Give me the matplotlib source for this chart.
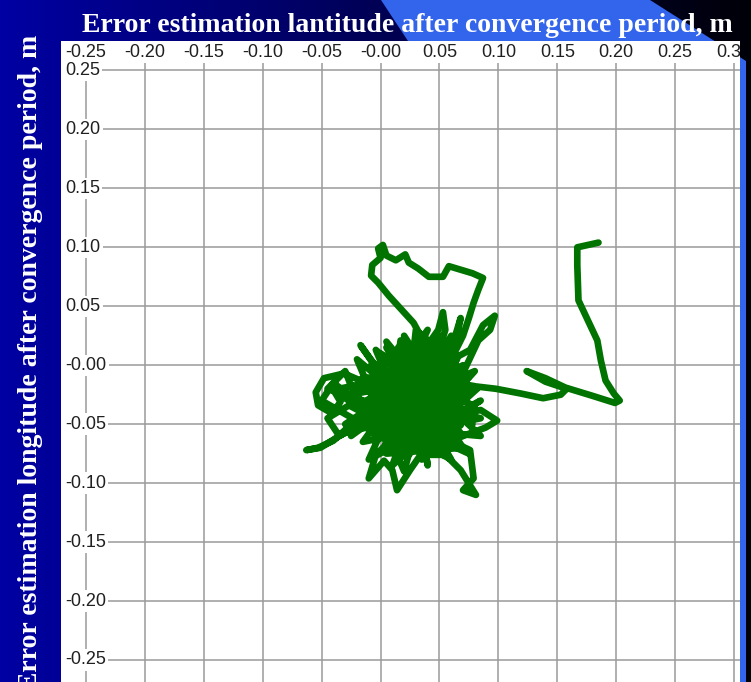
import numpy as np
import matplotlib
matplotlib.use('Agg')
import matplotlib.pyplot as plt
from matplotlib.patches import Polygon, Rectangle

# axis ticks
x_ticks = [-0.25, -0.20, -0.15, -0.10, -0.05, 0.00, 0.05, 0.10, 0.15, 0.20, 0.25, 0.30]
x_labels = ['-0.25', '-0.20', '-0.15', '-0.10', '-0.05', '-0.00',
            '0.05', '0.10', '0.15', '0.20', '0.25', '0.30']
y_ticks = [0.25, 0.20, 0.15, 0.10, 0.05, 0.00, -0.05, -0.10, -0.15, -0.20, -0.25]
y_labels = ['0.25', '0.20', '0.15', '0.10', '0.05', '-0.00',
            '-0.05', '-0.10', '-0.15', '-0.20', '-0.25']

# error trace (lat, lon), m
err_lat = [0.185, 0.167, 0.167, 0.168, 0.176, 0.184, 0.187, 0.191, 0.198, 0.203,
           0.199, 0.180, 0.157, 0.140, 0.124, 0.140, 0.158, 0.153, 0.138, 0.119,
           0.098, 0.081, 0.070, 0.051, 0.013, 0.064, 0.000, 0.042, 0.025, -0.013,
           0.068, 0.017, 0.004, 0.055, 0.034, 0.028, 0.017, 0.007, -0.002, -0.008,
           -0.007, 0.000, -0.002, 0.002, 0.005, 0.013, 0.021, 0.024, 0.032, 0.041,
           0.053, 0.058, 0.068, 0.078, 0.087, 0.083, 0.079, 0.075, 0.070, 0.051,
           -0.008, 0.047, 0.064, -0.004, 0.038, 0.055, 0.053, 0.049, 0.013, 0.076,
           0.087, 0.097, 0.093, 0.083, 0.059, 0.021, 0.064, 0.068, 0.061, 0.008,
           -0.017, -0.031, -0.048, -0.055, -0.053, -0.041, -0.034, -0.040, -0.021, -0.010,
           0.034, -0.008, -0.017, 0.017, -0.003, -0.015, -0.028, -0.040, -0.053, -0.063,
           -0.051, -0.030, -0.004, 0.042, 0.085, 0.099, 0.089, 0.059, 0.076, 0.079,
           0.070, 0.081, 0.068, 0.055, 0.034, 0.025, 0.014, 0.010, 0.003, -0.010,
           -0.004, 0.008, 0.068, -0.004, 0.030, 0.072, 0.004, 0.042, 0.025, -0.025,
           0.034, 0.000, 0.060, 0.010, 0.070, -0.010, 0.065, 0.020, 0.035, 0.075,
           -0.015, 0.050, 0.040, -0.005, 0.080, 0.015, 0.025, 0.060, -0.012, 0.070,
           0.005, 0.045, 0.050, 0.000, 0.075, 0.030, 0.020, 0.065, -0.008, 0.055,
           0.010, 0.078, 0.030, -0.010, 0.040, 0.060, 0.005, 0.070, 0.015, 0.035,
           0.080, -0.015, 0.045, 0.020, 0.055, 0.000, 0.065, 0.025, 0.040, 0.030,
           0.060, -0.020, 0.085, -0.015, 0.050, 0.010, 0.082, -0.025, 0.060, 0.005,
           0.085, -0.030, 0.045, 0.020, -0.020, 0.075, -0.035, 0.030, 0.085, -0.010,
           0.040, -0.025, 0.065, 0.000, -0.045, -0.030, -0.020, -0.045, -0.035, -0.015,
           -0.050, -0.040, 0.000]
err_lon = [0.104, 0.100, 0.085, 0.055, 0.038, 0.021, 0.004, -0.013, -0.024, -0.030,
           -0.032, -0.026, -0.019, -0.011, -0.005, -0.014, -0.020, -0.025, -0.028, -0.024,
           -0.020, -0.018, -0.016, 0.004, -0.047, -0.038, -0.004, -0.064, 0.013, -0.038,
           -0.025, 0.021, -0.068, -0.055, 0.025, 0.036, 0.048, 0.059, 0.070, 0.076,
           0.085, 0.091, 0.099, 0.102, 0.093, 0.089, 0.094, 0.087, 0.082, 0.075,
           0.075, 0.084, 0.081, 0.078, 0.074, 0.064, 0.053, 0.040, 0.025, -0.013,
           -0.025, -0.076, 0.004, -0.055, -0.025, 0.030, 0.045, 0.030, -0.021, 0.013,
           0.034, 0.042, 0.030, 0.021, -0.030, -0.004, 0.021, 0.040, 0.017, -0.013,
           -0.013, -0.007, -0.011, -0.023, -0.034, -0.041, -0.031, -0.021, -0.017, -0.013,
           -0.038, 0.004, 0.017, -0.030, -0.057, -0.047, -0.053, -0.064, -0.070, -0.072,
           -0.070, -0.057, -0.051, -0.047, -0.038, -0.047, -0.053, -0.064, -0.072, -0.096,
           -0.106, -0.110, -0.089, -0.076, -0.076, -0.089, -0.106, -0.089, -0.081, -0.096,
           -0.076, -0.064, -0.051, 0.013, -0.068, -0.008, -0.030, 0.017, -0.051, -0.025,
           -0.013, 0.010, -0.070, -0.070, 0.000, -0.040, -0.045, 0.025, -0.080, -0.020,
           -0.010, -0.060, 0.020, -0.060, -0.035, 0.000, -0.075, 0.015, -0.030, -0.060,
           0.020, -0.070, 0.010, -0.050, -0.010, 0.030, -0.060, -0.030, 0.000, -0.075,
           -0.020, -0.050, 0.005, -0.055, -0.040, 0.025, -0.075, -0.070, 0.015, -0.055,
           -0.005, -0.045, -0.015, -0.045, -0.040, -0.015, -0.055, 0.010, -0.085, -0.020,
           -0.010, -0.020, -0.045, -0.065, 0.025, -0.085, -0.020, -0.035, -0.080, 0.015,
           -0.060, -0.050, 0.000, -0.090, 0.005, -0.075, -0.025, -0.065, -0.030, -0.080,
           0.030, -0.060, 0.005, -0.035, -0.020, -0.005, -0.030, -0.045, -0.060, -0.050,
           -0.030, -0.015, -0.045]

W, H = 751, 682
fig = plt.figure(figsize=(W / 100, H / 100), dpi=100)

# background: navy gradient + blue band
bg = fig.add_axes([0, 0, 1, 1], zorder=0)
bg.set_xlim(0, W)
bg.set_ylim(H, 0)
bg.axis('off')
grad = np.zeros((2, W, 3))
grad[:, :, 2] = 0.64 - 0.61 * np.linspace(0, 1, W)
bg.imshow(grad, extent=[0, W, H, 0], aspect='auto')
bg.add_patch(Polygon([(381, 0), (650, 0), (746, 61), (746, H), (740, H), (740, 41), (408, 41)],
                     closed=True, facecolor='#3264ec', edgecolor='none'))

# plot panel
left, top, right = 61, 41, 740
ax = fig.add_axes([left / W, 0, (right - left) / W, (H - top) / H], zorder=1)
ax.set_facecolor('white')
ax.set_xlim(-0.2712, 0.3051)
ax.set_ylim(-0.2687, 0.2750)
for s in ax.spines.values():
    s.set_visible(False)
ax.set_xticks(x_ticks)
ax.set_yticks(y_ticks)
ax.tick_params(length=0, labelbottom=False, labelleft=False)
ax.grid(True, color='#9a9a9a', linewidth=1.1)
ax.set_axisbelow(True)

# white strips hiding the grid behind the tick labels
ax.add_patch(Rectangle((0, (H - 63) / (H - top)), 1, 1, transform=ax.transAxes,
                       facecolor='white', edgecolor='none', zorder=1.5))
ax.add_patch(Rectangle((0, 0), 4 / (right - left), 1, transform=ax.transAxes,
                       facecolor='white', edgecolor='none', zorder=1.5))

ax.plot(err_lat, err_lon, color='#007300', linewidth=4.8,
        solid_capstyle='round', solid_joinstyle='round', zorder=3)

tick_font = dict(family=['Liberation Sans', 'DejaVu Sans'], fontsize=13, color='#202020')
for xv, lab in zip(x_ticks, x_labels):
    ax.text(xv, 0.2653, lab, ha='center', va='center', clip_on=True, zorder=4, **tick_font)
for yv, lab in zip(y_ticks, y_labels):
    ax.text(-0.2676, yv, lab, ha='left', va='center', zorder=4,
            bbox=dict(facecolor='white', edgecolor='none', pad=1.5), **tick_font)

title_font = dict(family=['Liberation Serif', 'DejaVu Serif'], fontweight='bold',
                  fontsize=20, color='white')
fig.text(407 / W, 1 - 32 / H, 'Error estimation lantitude after convergence period, m',
         ha='center', va='baseline', zorder=5, **title_font)
fig.text(31 / W, 1 - 35 / H, 'Error estimation longitude after convergence period, m',
         rotation=90, ha='center', va='top', zorder=5, **title_font)

fig.savefig('out.png', dpi=100)
